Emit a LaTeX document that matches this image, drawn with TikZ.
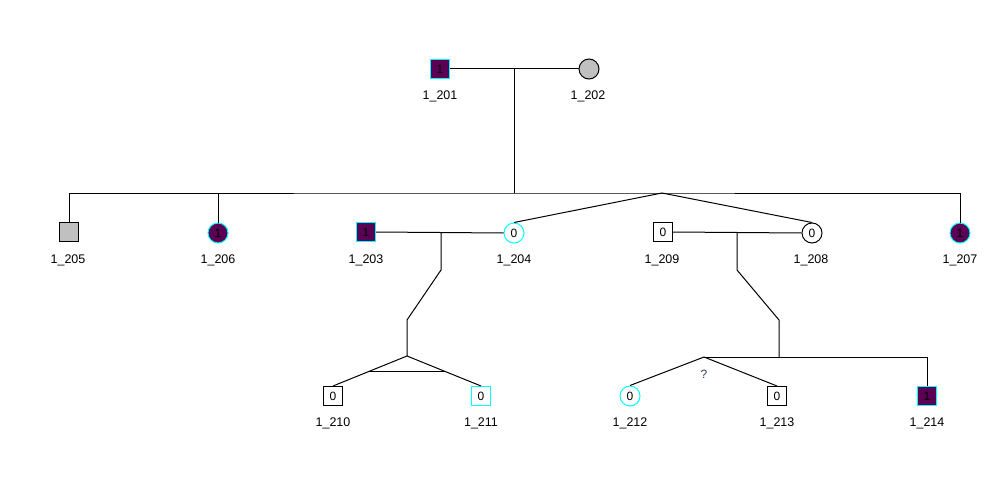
\documentclass[tikz,border=0pt]{standalone}
\usepackage{fontspec}
\setmainfont{Liberation Sans}
\usetikzlibrary{calc}
\definecolor{aff}{RGB}{90,0,85}
\definecolor{cy}{RGB}{0,255,255}
\definecolor{unk}{RGB}{192,192,192}
\definecolor{qc}{RGB}{40,60,90}
\begin{document}
\begin{tikzpicture}[x=1pt,y=-1pt,line width=1pt,
  male/.style={draw=black,rectangle,minimum size=19pt,inner sep=0pt,fill=white,font=\fontsize{12}{12}\selectfont},
  female/.style={draw=black,circle,minimum size=20pt,inner sep=0pt,fill=white,font=\fontsize{12}{12}\selectfont},
  affected/.style={fill=aff,draw=cy},
  unknown/.style={fill=unk},
  cyanb/.style={draw=cy},
  lab/.style={font=\fontsize{12.5}{12.5}\selectfont,text=black,inner sep=0pt},
  link/.style={draw=black,line width=1pt}]
\fill[white] (0,0) rectangle (1000,500);
\useasboundingbox (0,0) rectangle (1000,500);
% generation 1
\node[male,affected] (n201) at (440,69) {1};
\node[female,unknown] (n202) at (589,69) {};
\node[lab] (l201) at (440,96) {1\_201};
\node[lab] (l202) at (588,96) {1\_202};
% generation 2
\node[male,unknown] (n205) at (69,232) {};
\node[female,affected] (n206) at (218,233) {1};
\node[male,affected] (n203) at (366,232) {1};
\node[female,cyanb] (n204) at (514,233) {0};
\node[male] (n209) at (663,232) {0};
\node[female] (n208) at (812,233) {0};
\node[female,affected] (n207) at (960,233) {1};
\node[lab] (l205) at (68,260) {1\_205};
\node[lab] (l206) at (218,260) {1\_206};
\node[lab] (l203) at (366,260) {1\_203};
\node[lab] (l204) at (514,260) {1\_204};
\node[lab] (l209) at (662,260) {1\_209};
\node[lab] (l208) at (811,260) {1\_208};
\node[lab] (l207) at (960,260) {1\_207};
% generation 3
\node[male] (n210) at (333,396) {0};
\node[male,cyanb] (n211) at (481,396) {0};
\node[female,cyanb] (n212) at (630,396) {0};
\node[male] (n213) at (777,396) {0};
\node[male,affected] (n214) at (927,396) {1};
\node[lab] (l210) at (333,423) {1\_210};
\node[lab] (l211) at (481,423) {1\_211};
\node[lab] (l212) at (630,423) {1\_212};
\node[lab] (l213) at (777,423) {1\_213};
\node[lab] (l214) at (927,423) {1\_214};
\node[font=\fontsize{12}{12}\selectfont,text=qc,inner sep=0pt] (q) at (704,374) {?};
% coordinates
\coordinate (m1) at (514,69);
\coordinate (s1) at (514,193);
\coordinate (tw1) at (662,193);
\coordinate (m2) at (441,233);
\coordinate (tw2) at (407,356);
\coordinate (m3) at (737,233);
\coordinate (tw3) at (704,357);
% connectors
\draw[link] (n201.east) -- (n202.west);
\draw[link] (m1) -- (s1);
\draw[link] (n205.north) |- (s1) -| (n207.north);
\draw[link] (n206.north) -- (n206.north |- s1);
\draw[link] (n204.north) -- (tw1) -- (n208.north);
\draw[link] (n203.east) -- (n204.west);
\draw[link] (n209.east) -- (n208.west);
\draw[link] (m2) -- ++(0,37) -- (407,320) -- (tw2);
\draw[link] (n210.north) -- (tw2) -- (n211.north);
\draw[link] ($(tw2)!0.53!(n210.north)$) -- ($(tw2)!0.53!(n211.north)$);
\draw[link] (m3) -- ++(0,37) -- (779,320) -- (779,357);
\draw[link] (tw3) -| (n214.north);
\draw[link] (n212.north) -- (tw3) -- (n213.north);
\end{tikzpicture}
\end{document}
